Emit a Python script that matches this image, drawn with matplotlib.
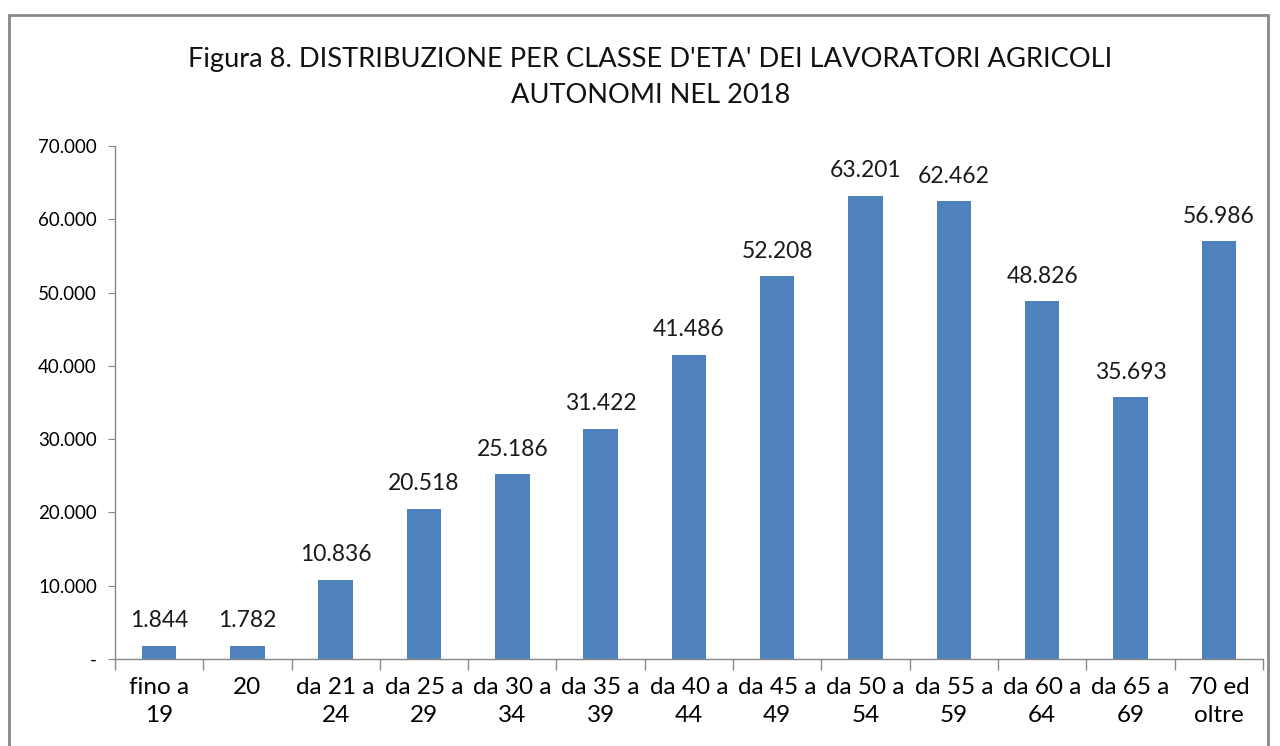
import matplotlib
matplotlib.use('Agg')
import matplotlib.pyplot as plt
from matplotlib.patches import Rectangle
from matplotlib.ticker import FuncFormatter

categories = ["fino a\n19", "20", "da 21 a\n24", "da 25 a\n29", "da 30 a\n34", "da 35 a\n39",
              "da 40 a\n44", "da 45 a\n49", "da 50 a\n54", "da 55 a\n59", "da 60 a\n64",
              "da 65 a\n69", "70 ed\noltre"]
workers = [1844, 1782, 10836, 20518, 25186, 31422, 41486, 52208, 63201, 62462, 48826, 35693, 56986]
y_ticks = [0, 10000, 20000, 30000, 40000, 50000, 60000, 70000]

plt.rcParams['font.family'] = ['Lato', 'DejaVu Sans']

def fmt_it(v):
    return f"{int(v):,}".replace(",", ".")

fig = plt.figure(figsize=(12.8, 7.46), dpi=100)
ax = fig.add_axes([0.0898, 0.1166, 0.8969, 0.6877])

x = range(len(categories))
ax.bar(x, workers, width=0.39, color="#4F81BD")

for i, v in enumerate(workers):
    ax.text(i, v + 2000, fmt_it(v), ha="center", va="bottom", fontsize=16.5, color="#1a1a1a")

ax.set_xlim(-0.5, len(categories) - 0.5)
ax.set_ylim(0, 70000)
ax.set_yticks(y_ticks)
ax.yaxis.set_major_formatter(FuncFormatter(lambda v, p: "-" if v == 0 else fmt_it(v)))
ax.set_xticks(x)
ax.set_xticklabels(categories, fontsize=17.5, linespacing=1.4)
ax.set_xticks([i + 0.5 for i in range(-1, len(categories))], minor=True)
ax.tick_params(axis="x", which="major", length=0, pad=13)
ax.tick_params(axis="x", which="minor", length=8, color="#888888", width=1)
ax.tick_params(axis="y", length=5, color="#888888", labelsize=13.5, pad=8)

for s in ["top", "right"]:
    ax.spines[s].set_visible(False)
for s in ["left", "bottom"]:
    ax.spines[s].set_color("#888888")
    ax.spines[s].set_linewidth(1)

fig.text(0.508, 0.8955, "Figura 8. DISTRIBUZIONE PER CLASSE D'ETA' DEI LAVORATORI AGRICOLI\nAUTONOMI NEL 2018",
         ha="center", va="center", fontsize=19.6, linespacing=1.55, color="#111111")

fig.patches.append(Rectangle((9 / 1280, -0.05), 1259 / 1280, (746 - 15) / 746 + 0.05,
                             transform=fig.transFigure, fill=False, edgecolor="#888888", linewidth=2))

fig.savefig("out.png", dpi=100)
